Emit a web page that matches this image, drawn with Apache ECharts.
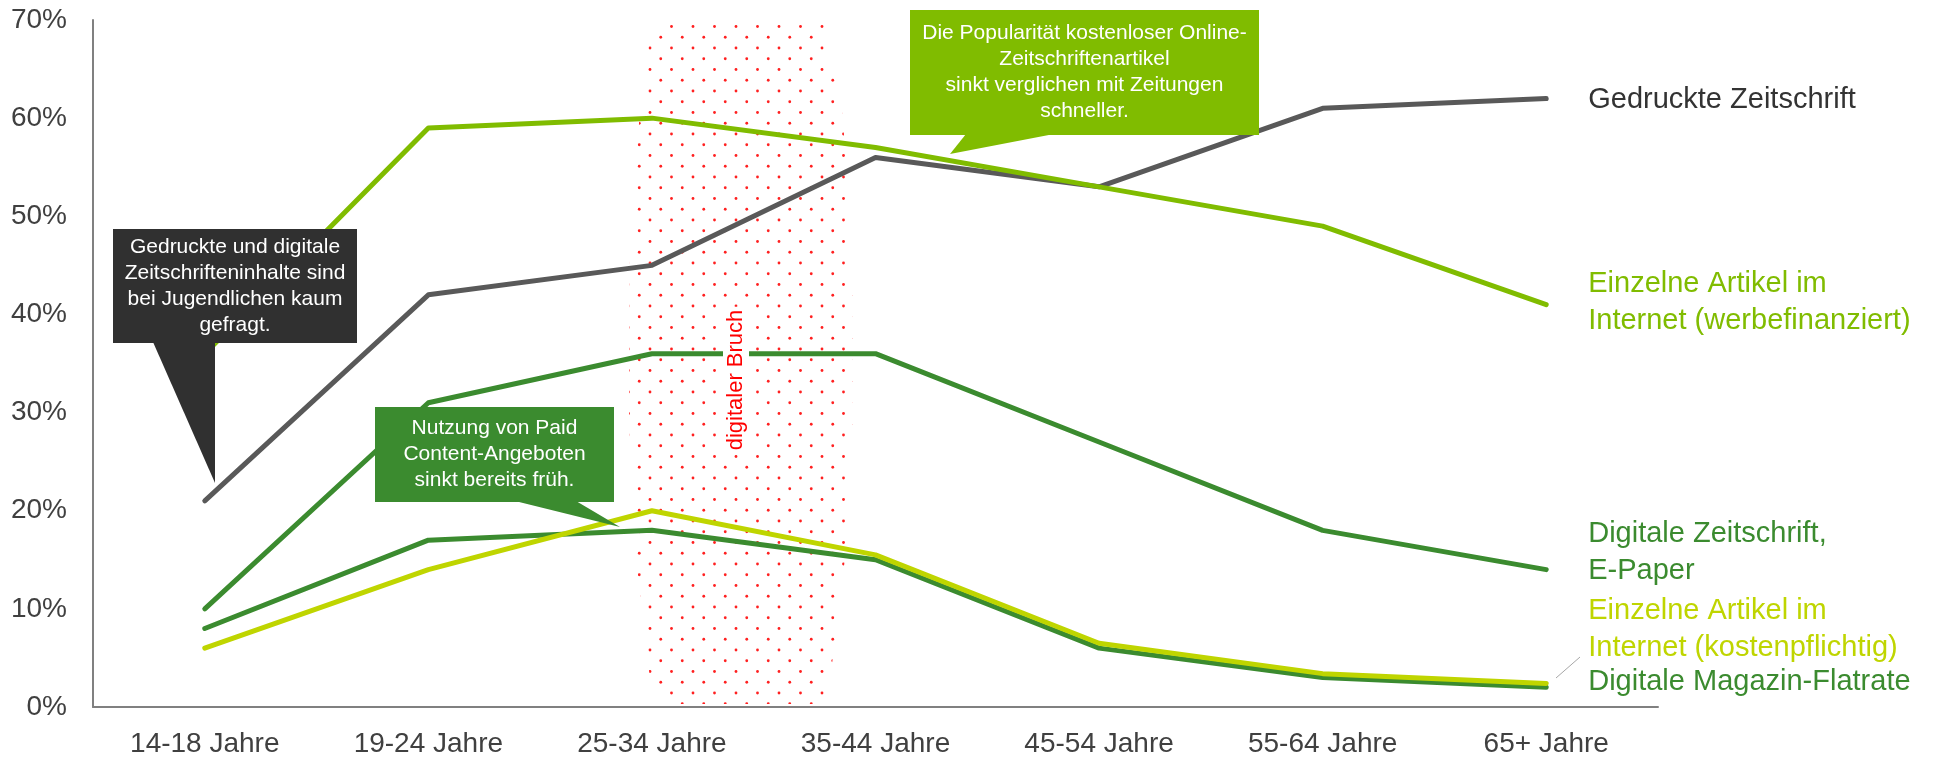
<!DOCTYPE html>
<html>
<head>
<meta charset="utf-8">
<script src="https://cdn.jsdelivr.net/npm/echarts@6/dist/echarts.min.js"></script>
<style>
html, body { margin: 0; padding: 0; background: #fff; }
#nutzung { width: 1935px; height: 758px; }
</style>
</head>
<body>
<div id="nutzung"></div>
<script>
const altersgruppen = ['14-18 Jahre', '19-24 Jahre', '25-34 Jahre', '35-44 Jahre', '45-54 Jahre', '55-64 Jahre', '65+ Jahre']
const gedruckteZeitschrift = [21, 42, 45, 56, 53, 61, 62]
const artikelWerbefinanziert = [36, 59, 60, 57, 53, 49, 41]
const digitaleZeitschrift = [10, 31, 36, 36, 27, 18, 14]
const magazinFlatrate = [8, 17, 18, 15, 6, 3, 2]
const artikelKostenpflichtig = [6, 14, 20, 15.5, 6.5, 3.4, 2.4]
const yMin = 0
const yMax = 70
const yStep = 10

const FONT = '"Liberation Sans", Arial, sans-serif'
const GRAU = '#595959'
const HELLGRUEN = '#80bc00'
const DUNKELGRUEN = '#3b8b2f'
const GELBGRUEN = '#bfd500'

// kleines Punktraster fuer den "digitalen Bruch"
function punktMuster () {
  const c = document.createElement('canvas')
  c.width = 43
  c.height = 43
  const ctx = c.getContext('2d')
  ctx.fillStyle = '#ff2020'
  for (let row = 0; row < 4; row++) {
    for (let col = 0; col < 2; col++) {
      const x = col * 21.5 + (row % 2) * 10.75 + 5
      const y = row * 10.75 + 5
      ctx.beginPath()
      ctx.arc(x, y, 1.4, 0, Math.PI * 2)
      ctx.fill()
    }
  }
  return c
}

function linie (name, data, color, label, dy) {
  return {
    name: name,
    type: 'line',
    data: data,
    symbol: 'none',
    z: 3,
    lineStyle: { color: color, width: 5, cap: 'round', join: 'round' },
    endLabel: {
      show: true,
      formatter: label,
      color: color === GRAU ? '#333333' : color,
      fontSize: 29,
      lineHeight: 37,
      fontFamily: FONT,
      distance: 42,
      offset: [0, dy]
    }
  }
}

function callout (box, spitze, farbe, zeilen) {
  return {
    type: 'group',
    z: 100,
    children: [
      { type: 'rect', z: 100, shape: box, style: { fill: farbe } },
      { type: 'polygon', z: 100, shape: { points: spitze }, style: { fill: farbe } },
      {
        type: 'text',
        z: 101,
        style: {
          text: zeilen.join('\n'),
          x: box.x + box.width / 2,
          y: box.y + box.height / 2,
          fill: '#ffffff',
          fontSize: 21,
          fontFamily: FONT,
          lineHeight: 26,
          align: 'center',
          verticalAlign: 'middle'
        }
      }
    ]
  }
}

const chart = echarts.init(document.getElementById('nutzung'))
const option = {
  animation: false,
  grid: { left: 93, right: 277, top: 20, bottom: 50 },
  xAxis: {
    type: 'category',
    data: altersgruppen,
    axisLine: { lineStyle: { color: '#808080', width: 2 } },
    axisTick: { show: false },
    axisLabel: { color: '#404040', fontSize: 28, fontFamily: FONT, margin: 23 }
  },
  yAxis: {
    type: 'value',
    min: yMin,
    max: yMax,
    interval: yStep,
    splitLine: { show: false },
    axisLine: { show: true, lineStyle: { color: '#808080', width: 2 } },
    axisTick: { show: false },
    axisLabel: { color: '#404040', fontSize: 28, fontFamily: FONT, margin: 26, formatter: '{value}%' }
  },
  graphic: [
    {
      type: 'polygon',
      z: 1,
      shape: {
        points: [[658, 18], [823, 18], [831, 60], [843, 117], [853, 300], [853, 420], [846, 550],
          [834, 650], [826, 704], [668, 704], [650, 680], [643, 613], [636, 560], [629, 420],
          [630, 247], [640, 110], [649, 43]]
      },
      style: { fill: { image: punktMuster(), repeat: 'repeat' } }
    },
    {
      type: 'text',
      z: 90,
      x: 736,
      y: 380,
      rotation: Math.PI / 2,
      style: {
        text: 'digitaler Bruch',
        fill: '#ff0000',
        fontSize: 22,
        fontFamily: FONT,
        align: 'center',
        verticalAlign: 'middle',
        backgroundColor: '#ffffff',
        padding: [2, 3]
      }
    },
    {
      type: 'line',
      z: 5,
      shape: { x1: 1556, y1: 678, x2: 1580, y2: 657 },
      style: { stroke: '#a6a6a6', lineWidth: 1 }
    },
    callout({ x: 113, y: 229, width: 244, height: 114 }, [[153, 342], [215, 342], [215, 483]], '#303030',
      ['Gedruckte und digitale', 'Zeitschrifteninhalte sind', 'bei Jugendlichen kaum', 'gefragt.']),
    callout({ x: 910, y: 10, width: 349, height: 125 }, [[966, 134], [1054, 134], [950, 154]], HELLGRUEN,
      ['Die Popularität kostenloser Online-', 'Zeitschriftenartikel', 'sinkt verglichen mit Zeitungen', 'schneller.']),
    callout({ x: 375, y: 407, width: 239, height: 95 }, [[515, 501], [576, 501], [620, 527]], DUNKELGRUEN,
      ['Nutzung von Paid', 'Content-Angeboten', 'sinkt bereits früh.'])
  ],
  series: [
    linie('Gedruckte Zeitschrift', gedruckteZeitschrift, GRAU, 'Gedruckte Zeitschrift', 1),
    linie('Einzelne Artikel im Internet (werbefinanziert)', artikelWerbefinanziert, HELLGRUEN, 'Einzelne Artikel im\nInternet (werbefinanziert)', -2),
    linie('Digitale Zeitschrift, E-Paper', digitaleZeitschrift, DUNKELGRUEN, 'Digitale Zeitschrift,\nE-Paper', -17),
    linie('Digitale Magazin-Flatrate', magazinFlatrate, DUNKELGRUEN, 'Digitale Magazin-Flatrate', -5),
    linie('Einzelne Artikel im Internet (kostenpflichtig)', artikelKostenpflichtig, GELBGRUEN, 'Einzelne Artikel im\nInternet (kostenpflichtig)', -54)
  ]
}
chart.setOption(option)
</script>
</body>
</html>
